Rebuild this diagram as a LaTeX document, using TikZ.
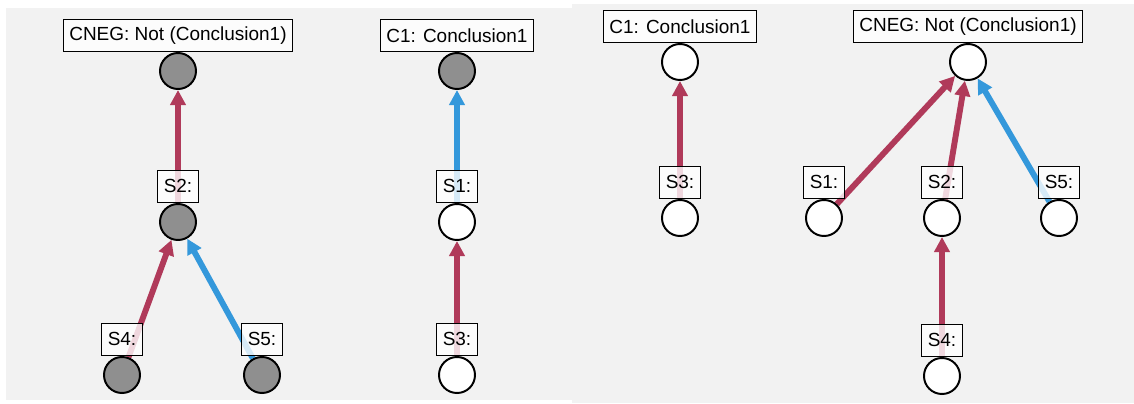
\documentclass[tikz,border=0pt]{standalone}
\usepackage{fontspec}
\setmainfont{Liberation Sans}
\usetikzlibrary{positioning,arrows.meta}
\definecolor{proRed}{RGB}{176,58,90}
\definecolor{conBlue}{RGB}{52,152,219}
\definecolor{heldGray}{RGB}{143,143,143}
\definecolor{paneBg}{RGB}{242,242,242}
\pgfdeclarelayer{pane}
\pgfdeclarelayer{edge}
\pgfsetlayers{pane,edge,main}
\begin{document}
\begin{tikzpicture}[x=0.025cm, y=-0.025cm, font=\fontsize{13.5}{16}\selectfont,
    stmt/.style={circle, draw, line width=1.4pt, fill=white, minimum size=0.9cm, inner sep=0pt},
    held/.style={stmt, fill=heldGray},
    tag/.style={draw, line width=0.8pt, fill=white, fill opacity=0.8, text opacity=1, minimum height=0.8cm, inner xsep=4.2pt, inner ysep=0pt},
    pro/.style={draw=proRed, line width=4.2pt, -{Triangle[length=0.38cm, width=0.38cm]}},
    con/.style={pro, draw=conBlue},
  ]
  \useasboundingbox (0,0) rectangle (1134,403);
  \begin{pgfonlayer}{pane}
    \fill[paneBg] (6,8) rectangle (572,400);
    \fill[paneBg] (572,4) rectangle (1134,403);
  \end{pgfonlayer}

  % graph 1
  \node[held] (a-cneg) at (178,71) {};
  \node[held] (a-s2) at (178,222) {};
  \node[held] (a-s4) at (122,375) {};
  \node[held] (a-s5) at (262,375) {};
  \node[tag, above=0pt of a-cneg] {CNEG: Not (Conclusion1)};
  \node[tag, above=0pt of a-s2] {S2:};
  \node[tag, above=0pt of a-s4] {S4:};
  \node[tag, above=0pt of a-s5] {S5:};

  % graph 2
  \node[held] (b-c1) at (457,71) {};
  \node[stmt] (b-s1) at (457,222) {};
  \node[stmt] (b-s3) at (457,375) {};
  \node[tag, above=0pt of b-c1] {C1: Conclusion1};
  \node[tag, above=0pt of b-s1] {S1:};
  \node[tag, above=0pt of b-s3] {S3:};

  % graph 3
  \node[stmt] (c-c1) at (680,62) {};
  \node[stmt] (c-s3) at (680,218) {};
  \node[tag, above=0pt of c-c1] {C1: Conclusion1};
  \node[tag, above=0pt of c-s3] {S3:};

  % graph 4
  \node[stmt] (d-cneg) at (968,62) {};
  \node[stmt] (d-s1) at (824,218) {};
  \node[stmt] (d-s2) at (942,218) {};
  \node[stmt] (d-s5) at (1059,218) {};
  \node[stmt] (d-s4) at (942,376) {};
  \node[tag, above=0pt of d-cneg] {CNEG: Not (Conclusion1)};
  \node[tag, above=0pt of d-s1] {S1:};
  \node[tag, above=0pt of d-s2] {S2:};
  \node[tag, above=0pt of d-s5] {S5:};
  \node[tag, above=0pt of d-s4] {S4:};

  % supports / attacks
  \begin{pgfonlayer}{edge}
    \draw[pro] (a-s2) -- (a-cneg);
    \draw[pro] (a-s4) -- (a-s2);
    \draw[con] (a-s5) -- (a-s2);
    \draw[con] (b-s1) -- (b-c1);
    \draw[pro] (b-s3) -- (b-s1);
    \draw[pro] (c-s3) -- (c-c1);
    \draw[pro] (d-s1) -- (d-cneg);
    \draw[pro] (d-s2) -- (d-cneg);
    \draw[con] (d-s5) -- (d-cneg);
    \draw[pro] (d-s4) -- (d-s2);
  \end{pgfonlayer}
\end{tikzpicture}
\end{document}
